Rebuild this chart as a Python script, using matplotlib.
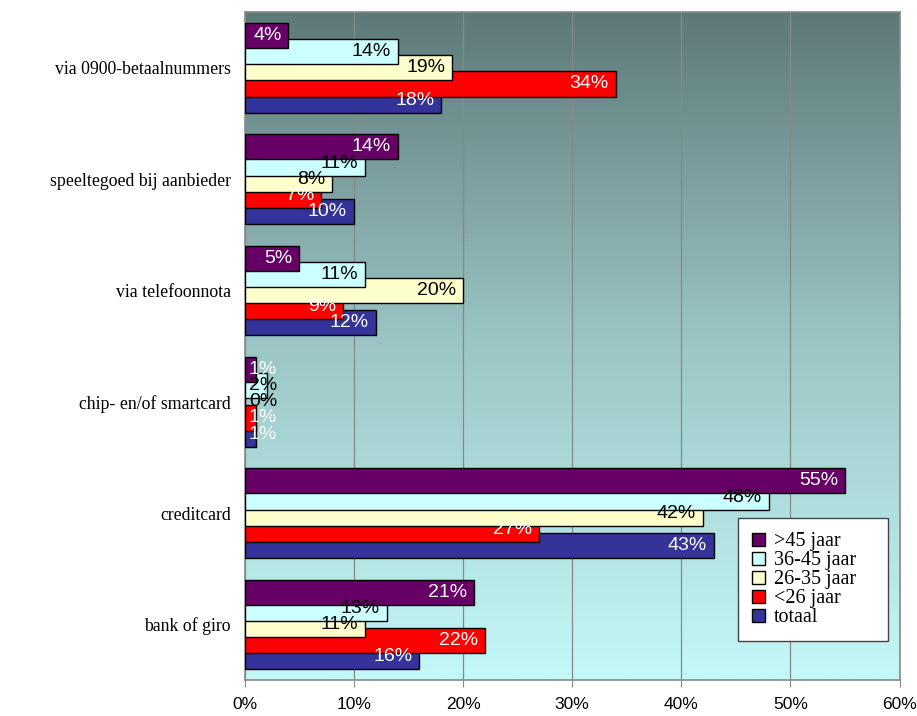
import numpy as np
import matplotlib.pyplot as plt
from matplotlib.colors import LinearSegmentedColormap
from matplotlib.patches import Patch

# categories, top to bottom
categories = ['via 0900-betaalnummers', 'speeltegoed bij aanbieder', 'via telefoonnota',
              'chip- en/of smartcard', 'creditcard', 'bank of giro']

# series values (%)
gt45 = [4, 14, 5, 1, 55, 21]
a36_45 = [14, 11, 11, 2, 48, 13]
a26_35 = [19, 8, 20, 0, 42, 11]
lt26 = [34, 7, 9, 1, 27, 22]
totaal = [18, 10, 12, 1, 43, 16]

series_names = ['>45 jaar', '36-45 jaar', '26-35 jaar', '<26 jaar', 'totaal']
series_values = [gt45, a36_45, a26_35, lt26, totaal]
colors = ['#660066', '#CCFFFF', '#FFFFCC', '#FF0000', '#333399']
label_colors = ['white', 'black', 'black', 'white', 'white']

xticks = [0, 10, 20, 30, 40, 50, 60]

fig = plt.figure(figsize=(9.17, 7.16), dpi=100)
ax = fig.add_axes([0.267, 0.050, 0.714, 0.933])

# gradient background
cmap = LinearSegmentedColormap.from_list('bg', ['#C4F8F8', '#9CC6C6', '#5D7978'])
grad = np.linspace(0, 1, 256).reshape(-1, 1)
ax.imshow(grad, extent=[0, 1, 0, 1], transform=ax.transAxes, aspect='auto',
          cmap=cmap, origin='lower', zorder=0)

n = len(categories)
ypos = np.arange(n)
bar_h = 0.225
step = 0.145

# draw bottom series first so the upper series overlap it
for k in reversed(range(len(series_names))):
    off = (k - 2) * step
    vals = series_values[k]
    ax.barh(ypos + off, vals, height=bar_h, color=colors[k], edgecolor='black',
            linewidth=1, zorder=3 + (4 - k))
    for i, v in enumerate(vals):
        x = max(v, 3.6)
        ax.annotate(f'{v}%', (x, ypos[i] + off), xytext=(-5, 0), textcoords='offset points',
                    ha='right', va='center', color=label_colors[k], fontsize=14,
                    family='Liberation Sans', zorder=10)

ax.set_xlim(0, 60)
ax.set_ylim(n - 0.5, -0.5)
ax.set_xticks(xticks)
ax.set_xticklabels([f'{t}%' for t in xticks], family='Liberation Sans', fontsize=12.5)
ax.set_yticks(ypos)
ax.set_yticklabels(categories, family='Liberation Serif', fontsize=12.8)
ax.tick_params(axis='y', length=0, pad=10)
ax.tick_params(axis='x', length=5, color='#888888', pad=7)
ax.grid(axis='x', color='#888888', linewidth=0.9, zorder=1)
ax.set_axisbelow(True)
for s in ax.spines.values():
    s.set_color('#888888')
    s.set_linewidth(1.2)

handles = [Patch(facecolor=c, edgecolor='black', linewidth=1) for c in colors]
leg = ax.legend(handles, series_names, loc='upper left',
                bbox_to_anchor=(0.753, 0.0, 0.229, 0.2425), mode='expand',
                prop={'family': 'Liberation Serif', 'size': 14.5}, fancybox=False,
                framealpha=1, edgecolor='#444444', handlelength=0.65, handleheight=0.65,
                labelspacing=0.0, borderpad=0.7, handletextpad=0.45, borderaxespad=0)
leg.set_zorder(20)

fig.savefig('out.png', dpi=100)
